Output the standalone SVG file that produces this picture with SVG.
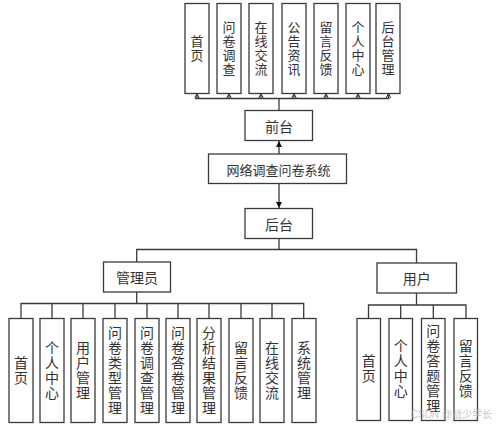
<svg xmlns="http://www.w3.org/2000/svg" width="500" height="426" viewBox="0 0 500 426">
<defs>
<style>
.box{fill:#fff;stroke:#3a3a3a;stroke-width:1.3}
.ln{fill:none;stroke:#3a3a3a;stroke-width:1.3}
.t{font-family:"Noto Sans CJK SC","Noto Sans CJK JP",sans-serif;fill:#333;text-anchor:middle;dominant-baseline:central}
.v{font-family:"Noto Sans CJK SC","Noto Sans CJK JP",sans-serif;fill:#333;text-anchor:middle;writing-mode:vertical-rl;text-orientation:upright}
.t13{font-size:13px}
.t14{font-size:14px}
.v13{font-size:13px;letter-spacing:1px}
.v14{font-size:14px;letter-spacing:1px}
.wm{font-family:"Liberation Sans","Noto Sans CJK SC",sans-serif;font-size:10px;fill:#bbb;opacity:0.8;text-anchor:end}
</style>
<marker id="solid" viewBox="0 0 10 10" refX="10" refY="5" markerWidth="6" markerHeight="6" orient="auto" markerUnits="userSpaceOnUse">
<path d="M0,0 L10,5 L0,10 Z" fill="#111"/>
</marker>
<marker id="open" viewBox="0 0 10 10" refX="9" refY="5" markerWidth="5" markerHeight="6" orient="auto" markerUnits="userSpaceOnUse">
<path d="M0,0.5 L9,5 L0,9.5" fill="none" stroke="#333" stroke-width="2"/>
</marker>
</defs>
<rect width="500" height="426" fill="#fff"/>

<g id="connectors">
<path class="ln" d="M195,98.5 H389.5"/>
<path class="ln" d="M197,98.5 V93.5" marker-end="url(#open)"/>
<path class="ln" d="M229,98.5 V93.5" marker-end="url(#open)"/>
<path class="ln" d="M261,98.5 V93.5" marker-end="url(#open)"/>
<path class="ln" d="M294,98.5 V93.5" marker-end="url(#open)"/>
<path class="ln" d="M326,98.5 V93.5" marker-end="url(#open)"/>
<path class="ln" d="M358,98.5 V93.5" marker-end="url(#open)"/>
<path class="ln" d="M388.5,98.5 V93.5" marker-end="url(#open)"/>
<path class="ln" d="M279,98.5 V110.5"/>
<path class="ln" d="M279,154 V141" marker-end="url(#solid)"/>
<path class="ln" d="M279,183.5 V208" marker-end="url(#solid)"/>
<path class="ln" d="M279,238.5 V249.5"/>
<path class="ln" d="M136.7,262 V249.5 H416.5 V263"/>
<path class="ln" d="M136.7,292 V303.5"/>
<path class="ln" d="M21,318.5 V303.5 H303.7 V318.5"/>
<path class="ln" d="M52,303.5 V318.5 M83,303.5 V318.5 M115,303.5 V318.5 M147,303.5 V318.5 M178,303.5 V318.5 M209,303.5 V318.5 M241,303.5 V318.5 M272,303.5 V318.5"/>
<path class="ln" d="M416.5,293 V305"/>
<path class="ln" d="M368.5,318.5 V305 H466 V318.5"/>
<path class="ln" d="M400.7,305 V318.5 M433.3,305 V318.5"/>
</g>

<g id="top-boxes">
<g id="n-shouye"><rect class="box" x="185" y="3.5" width="24" height="90"/><text class="v v13" x="197" y="48.5">首页</text></g>
<g id="n-wenjuandiaocha"><rect class="box" x="217" y="3.5" width="24" height="90"/><text class="v v13" x="229" y="48.5">问卷调查</text></g>
<g id="n-zaixianjiaoliu"><rect class="box" x="249" y="3.5" width="24" height="90"/><text class="v v13" x="261" y="48.5">在线交流</text></g>
<g id="n-gonggaozixun"><rect class="box" x="282" y="3.5" width="24" height="90"/><text class="v v13" x="294" y="48.5">公告资讯</text></g>
<g id="n-liuyanfankui"><rect class="box" x="314" y="3.5" width="24" height="90"/><text class="v v13" x="326" y="48.5">留言反馈</text></g>
<g id="n-gerenzhongxin"><rect class="box" x="346" y="3.5" width="24" height="90"/><text class="v v13" x="358" y="48.5">个人中心</text></g>
<g id="n-houtaiguanli"><rect class="box" x="376" y="3.5" width="24" height="90"/><text class="v v13" x="388" y="48.5">后台管理</text></g>
</g>

<g id="n-qiantai"><rect class="box" x="245" y="110.5" width="67.5" height="30"/><text class="t t14" x="279" y="125.5">前台</text></g>
<g id="n-system"><rect class="box" x="208.5" y="154" width="138" height="29.5"/><text class="t t13" x="278.5" y="169">网络调查问卷系统</text></g>
<g id="n-houtai"><rect class="box" x="245" y="208.5" width="67.5" height="30"/><text class="t t14" x="279" y="223.5">后台</text></g>
<g id="n-admin"><rect class="box" x="103.5" y="262" width="67" height="30"/><text class="t t14" x="137" y="277">管理员</text></g>
<g id="n-user"><rect class="box" x="377" y="263" width="79.5" height="30"/><text class="t t14" x="416.7" y="278">用户</text></g>

<g id="admin-children">
<g id="a-shouye"><rect class="box" x="9" y="318.5" width="24" height="104"/><text class="v v14" x="21" y="371">首页</text></g>
<g id="a-geren"><rect class="box" x="40" y="318.5" width="24" height="104"/><text class="v v14" x="52" y="371">个人中心</text></g>
<g id="a-yonghu"><rect class="box" x="71" y="318.5" width="24" height="104"/><text class="v v14" x="83" y="371">用户管理</text></g>
<g id="a-leixing"><rect class="box" x="103" y="318.5" width="24" height="104"/><text class="v v14" x="115" y="371">问卷类型管理</text></g>
<g id="a-diaocha"><rect class="box" x="135" y="318.5" width="24" height="104"/><text class="v v14" x="147" y="371">问卷调查管理</text></g>
<g id="a-dajuan"><rect class="box" x="166" y="318.5" width="24" height="104"/><text class="v v14" x="178" y="371">问卷答卷管理</text></g>
<g id="a-fenxi"><rect class="box" x="197" y="318.5" width="24" height="104"/><text class="v v14" x="209" y="371">分析结果管理</text></g>
<g id="a-liuyan"><rect class="box" x="229" y="318.5" width="24" height="104"/><text class="v v14" x="241" y="371">留言反馈</text></g>
<g id="a-zaixian"><rect class="box" x="260" y="318.5" width="24" height="104"/><text class="v v14" x="272" y="371">在线交流</text></g>
<g id="a-xitong"><rect class="box" x="292" y="318.5" width="24" height="104"/><text class="v v14" x="304" y="371">系统管理</text></g>
</g>

<g id="user-children">
<g id="u-shouye"><rect class="box" x="357" y="318.5" width="23.5" height="102"/><text class="v v14" x="368.7" y="369">首页</text></g>
<g id="u-geren"><rect class="box" x="389" y="318.5" width="23.5" height="102"/><text class="v v14" x="400.7" y="369">个人中心</text></g>
<g id="u-dati"><rect class="box" x="421.5" y="318.5" width="23.5" height="102"/><text class="v v14" x="433.3" y="369">问卷答题管理</text></g>
<g id="u-liuyan"><rect class="box" x="454" y="318.5" width="23.5" height="102"/><text class="v v14" x="465.8" y="369">留言反馈</text></g>
</g>

<text class="wm" x="492" y="418">CSDN @战少学长</text>
</svg>
